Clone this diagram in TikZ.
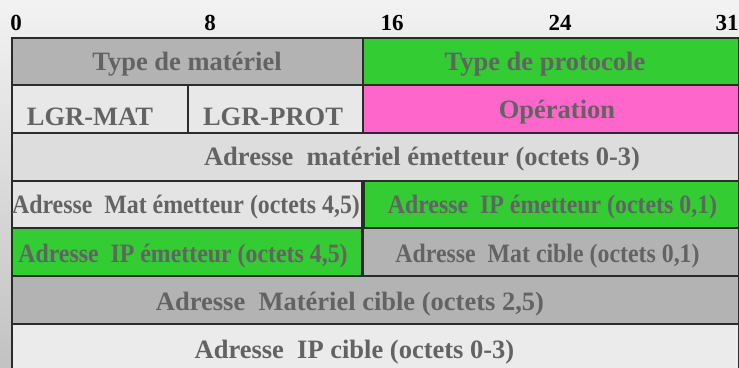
\documentclass[tikz,border=0pt]{standalone}
\usepackage{fontspec}
\usepackage{graphicx}
\setmainfont{Liberation Serif}
\definecolor{cgray}{HTML}{B3B3B3}
\definecolor{cgreen}{HTML}{33CC33}
\definecolor{cpink}{HTML}{FF66CC}
\definecolor{clight}{HTML}{E8E8E8}
\definecolor{clight2}{HTML}{DDDDDD}
\definecolor{clight3}{HTML}{E4E4E4}
\definecolor{clight4}{HTML}{EBEBEB}
\definecolor{cline}{HTML}{2B2B2B}
\definecolor{ctext}{HTML}{636363}
\begin{document}
\begin{tikzpicture}[x=1pt,y=-1pt,
  cell/.style={draw=cline, line width=2pt, inner sep=0pt, anchor=north west, minimum height=47.65pt},
  lbl/.style={anchor=base, inner sep=0pt, text=ctext, font=\fontsize{26.5}{30}\selectfont\bfseries},
  hdr/.style={anchor=base, inner sep=0pt, text=black, font=\fontsize{23}{26}\selectfont\bfseries}]
\useasboundingbox (0,0) rectangle (739,367);
\shade[top color=white!95!black, bottom color=white!76!black] (0,0) rectangle (739,367);
% header
\node[hdr] (h0) at (16,30) {0};
\node[hdr] (h8) at (210,30) {8};
\node[hdr] (h16) at (392,30) {16};
\node[hdr] (h24) at (560,30) {24};
\node[hdr] (h31) at (727,30) {31};
% row 1
\node[cell, fill=cgray, minimum width=351pt] (r1a) at (11,36.7) {};
\node[cell, fill=cgreen, minimum width=375.5pt] (r1b) at (362,36.7) {};
% row 2
\node[cell, fill=clight, minimum width=176pt] (r2a) at (11,84.35) {};
\node[cell, fill=clight, minimum width=175pt] (r2b) at (187,84.35) {};
\node[cell, fill=cpink, minimum width=375.5pt] (r2c) at (362,84.35) {};
% row 3
\node[cell, fill=clight2, minimum width=726.5pt] (r3) at (11,132) {};
% row 4
\node[cell, fill=clight3, minimum width=349.5pt] (r4a) at (11,179.65) {};
\node[cell, fill=cgreen, minimum width=375pt] (r4b) at (362.5,179.65) {};
% row 5
\node[cell, fill=cgreen, minimum width=350pt] (r5a) at (11,227.3) {};
\node[cell, fill=cgray, minimum width=376pt] (r5b) at (361.5,227.3) {};
% row 6
\node[cell, fill=cgray, minimum width=726.5pt] (r6) at (11,274.95) {};
% row 7
\node[cell, fill=clight4, minimum width=726.5pt] (r7) at (11,322.6) {};
% labels
\node[lbl] (t1a) at (187,70) {Type de matériel};
\node[lbl] (t1b) at (545,70) {Type de protocole};
\node[lbl] (t2a) at (90,125) {LGR-MAT};
\node[lbl] (t2b) at (273,125) {LGR-PROT};
\node[lbl] (t2c) at (557,118) {Opération};
\node[lbl] (t3) at (422,165) {Adresse\ \ matériel émetteur (octets 0-3)};
\node[lbl] (t4a) at (186,213) {\scalebox{0.9}[1]{Adresse\ \ Mat émetteur (octets 4,5)}};
\node[lbl] (t4b) at (552.5,213) {\scalebox{0.9}[1]{Adresse\ \ IP émetteur (octets 0,1)}};
\node[lbl] (t5a) at (183,262) {\scalebox{0.9}[1]{Adresse\ \ IP émetteur (octets 4,5)}};
\node[lbl] (t5b) at (547.5,262) {\scalebox{0.9}[1]{Adresse\ \ Mat cible (octets 0,1)}};
\node[lbl] (t6) at (350,310) {Adresse\ \ Matériel cible (octets 2,5)};
\node[lbl] (t7) at (354.5,358) {Adresse\ \ IP cible (octets 0-3)};
\end{tikzpicture}
\end{document}
